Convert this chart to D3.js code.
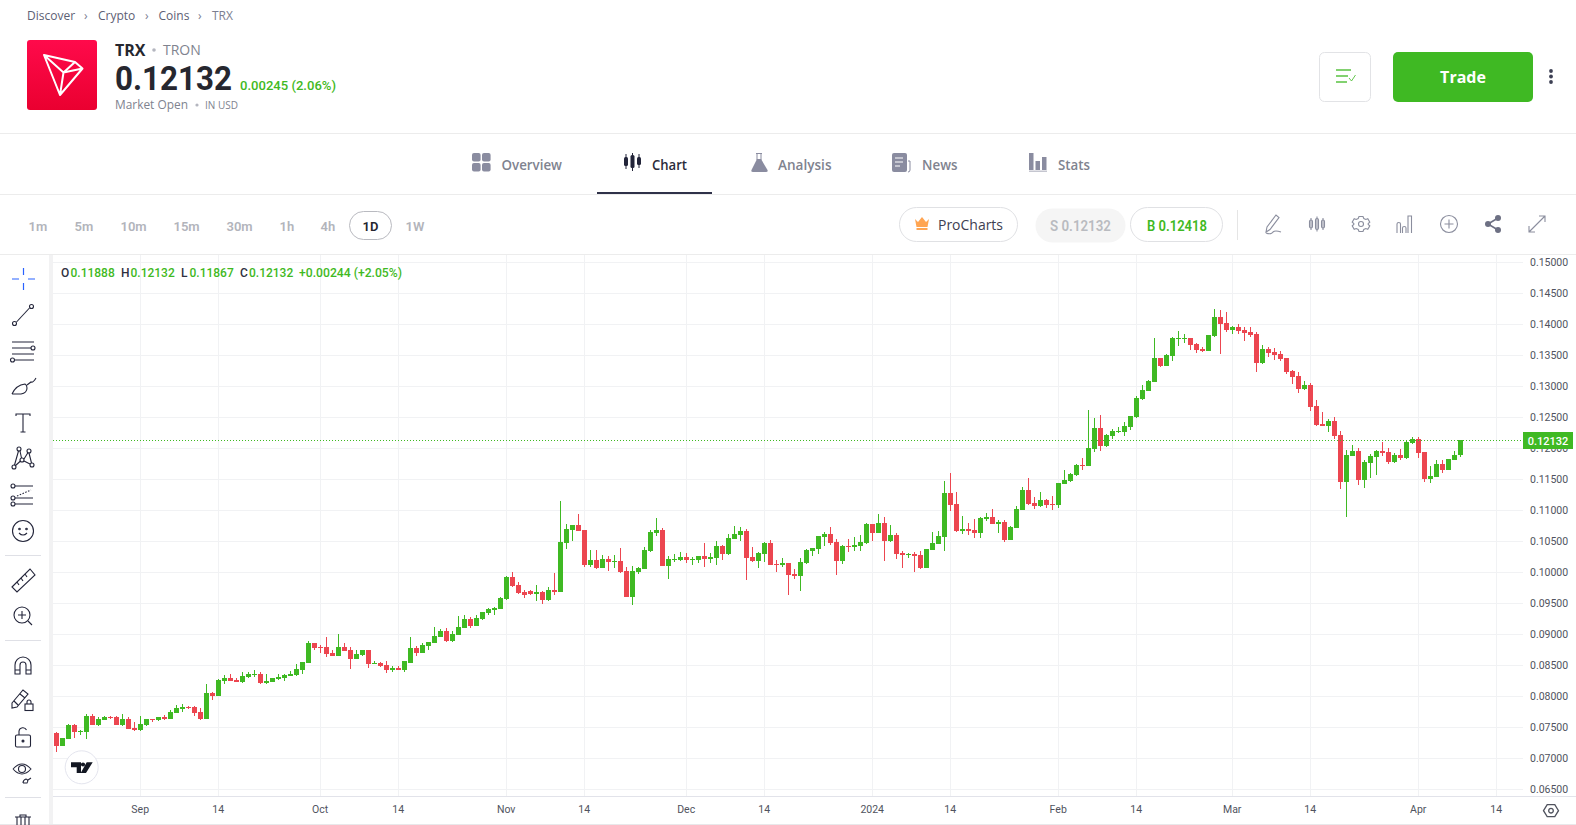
<!doctype html>
<html>
<head>
<meta charset="utf-8">
<title>TRX</title>
<script src="https://d3js.org/d3.v7.min.js"></script>
<style>
html,body{margin:0;padding:0;background:#fff;overflow:hidden}
svg{display:block}
</style>
</head>
<body>
<script>
// daily candles, first one on 2023-08-18
const firstDay = "2023-08-18";
const opens = [0.07409,0.07199,0.07312,0.07538,0.07425,0.07425,0.07683,0.07538,0.07619,0.07667,
0.07667,0.07538,0.07635,0.07490,0.07457,0.07538,0.07635,0.07619,0.07667,0.07635,
0.07732,0.07796,0.07828,0.07828,0.07748,0.07635,0.08054,0.08006,0.08248,0.08296,
0.08264,0.08232,0.08312,0.08344,0.08361,0.08215,0.08232,0.08280,0.08296,0.08328,
0.08344,0.08425,0.08538,0.08860,0.08796,0.08796,0.08699,0.08651,0.08796,0.08748,
0.08602,0.08667,0.08748,0.08522,0.08538,0.08506,0.08425,0.08457,0.08425,0.08538,
0.08780,0.08699,0.08812,0.08860,0.08957,0.09054,0.08893,0.08989,0.09102,0.09247,
0.09135,0.09247,0.09344,0.09393,0.09409,0.09570,0.09925,0.09796,0.09683,0.09699,
0.09651,0.09683,0.09554,0.09715,0.09683,0.10473,0.10683,0.10764,0.10683,0.10118,
0.10199,0.10070,0.10215,0.10167,0.10183,0.10022,0.09602,0.10006,0.10054,0.10344,
0.10634,0.10683,0.10102,0.10199,0.10199,0.10247,0.10199,0.10199,0.10264,0.10215,
0.10231,0.10425,0.10296,0.10538,0.10602,0.10667,0.10247,0.10183,0.10296,0.10474,
0.10135,0.10119,0.10151,0.09974,0.09941,0.10151,0.10345,0.10377,0.10570,0.10619,
0.10490,0.10183,0.10425,0.10409,0.10425,0.10474,0.10780,0.10635,0.10796,0.10506,
0.10603,0.10312,0.10280,0.10296,0.10280,0.10070,0.10361,0.10458,0.10570,0.11280,
0.11103,0.10667,0.10699,0.10683,0.10635,0.10861,0.10893,0.10780,0.10812,0.10522,
0.10716,0.11006,0.11328,0.11119,0.11070,0.11167,0.11103,0.11087,0.11425,0.11474,
0.11570,0.11732,0.11716,0.11990,0.12328,0.12037,0.12199,0.12263,0.12263,0.12344,
0.12505,0.12795,0.12924,0.13070,0.13457,0.13328,0.13489,0.13763,0.13763,0.13779,
0.13682,0.13602,0.13569,0.13811,0.14118,0.14021,0.13908,0.13957,0.13908,0.13876,
0.13844,0.13376,0.13602,0.13553,0.13521,0.13457,0.13247,0.13166,0.12957,0.13021,
0.12682,0.12392,0.12360,0.12440,0.12215,0.11457,0.11876,0.11957,0.11489,0.11763,
0.11860,0.11957,0.11941,0.11779,0.11892,0.11844,0.12086,0.12150,0.11941,0.11505,
0.11537,0.11747,0.11650,0.11812,0.11888];
const highs = [0.07420,0.07328,0.07549,0.07554,0.07457,0.07715,0.07715,0.07667,0.07683,0.07683,
0.07683,0.07715,0.07667,0.07586,0.07683,0.07635,0.07635,0.07667,0.07699,0.07780,
0.07861,0.07877,0.07844,0.07844,0.07812,0.08199,0.08070,0.08280,0.08344,0.08361,
0.08291,0.08393,0.08393,0.08425,0.08393,0.08361,0.08296,0.08361,0.08361,0.08409,
0.08522,0.08554,0.08893,0.08860,0.08828,0.08957,0.08748,0.09006,0.08860,0.08796,
0.08748,0.08748,0.08748,0.08570,0.08554,0.08570,0.08490,0.08490,0.08570,0.08957,
0.08812,0.08860,0.08877,0.09118,0.09086,0.09102,0.09054,0.09296,0.09312,0.09280,
0.09312,0.09360,0.09425,0.09441,0.09602,0.09941,0.10006,0.09844,0.09715,0.09715,
0.09796,0.09699,0.09764,0.09989,0.11151,0.10780,0.10764,0.10941,0.10683,0.10360,
0.10360,0.10280,0.10264,0.10280,0.10393,0.10086,0.10102,0.10086,0.10409,0.10683,
0.10876,0.10715,0.10264,0.10296,0.10328,0.10312,0.10247,0.10264,0.10473,0.10312,
0.10505,0.10441,0.10618,0.10747,0.10731,0.10699,0.10409,0.10328,0.10490,0.10522,
0.10200,0.10232,0.10151,0.10054,0.10232,0.10377,0.10393,0.10587,0.10651,0.10732,
0.10538,0.10441,0.10538,0.10570,0.10603,0.10796,0.10780,0.10941,0.10893,0.10764,
0.10635,0.10345,0.10312,0.10329,0.10345,0.10377,0.10651,0.10667,0.11474,0.11603,
0.11296,0.10909,0.10796,0.10861,0.10893,0.10958,0.11022,0.10845,0.10845,0.10748,
0.11070,0.11377,0.11522,0.11216,0.11296,0.11183,0.11232,0.11441,0.11651,0.11603,
0.11748,0.11845,0.12619,0.12490,0.12538,0.12231,0.12311,0.12344,0.12424,0.12521,
0.12844,0.13021,0.13102,0.13779,0.13457,0.13521,0.13795,0.13892,0.13844,0.13779,
0.13698,0.13634,0.13828,0.14247,0.14231,0.14198,0.13973,0.14005,0.13957,0.13957,
0.13876,0.13666,0.13634,0.13618,0.13569,0.13457,0.13263,0.13231,0.13086,0.13053,
0.12779,0.12586,0.12473,0.12505,0.12279,0.11973,0.12053,0.12005,0.11812,0.11908,
0.11973,0.12102,0.12005,0.11924,0.11989,0.12118,0.12182,0.12182,0.11941,0.11715,
0.11812,0.11812,0.11828,0.11957,0.12132];
const lows = [0.07103,0.07199,0.07312,0.07328,0.07377,0.07312,0.07538,0.07522,0.07619,0.07635,
0.07538,0.07522,0.07473,0.07441,0.07447,0.07522,0.07586,0.07602,0.07619,0.07635,
0.07732,0.07748,0.07796,0.07683,0.07619,0.07635,0.07941,0.08006,0.08199,0.08248,
0.08232,0.08215,0.08296,0.08312,0.08205,0.08199,0.08232,0.08264,0.08248,0.08328,
0.08328,0.08361,0.08538,0.08748,0.08699,0.08635,0.08651,0.08651,0.08731,0.08441,
0.08602,0.08651,0.08457,0.08522,0.08473,0.08377,0.08393,0.08425,0.08393,0.08538,
0.08651,0.08699,0.08748,0.08860,0.08957,0.08877,0.08877,0.08989,0.09102,0.09102,
0.09135,0.09231,0.09312,0.09312,0.09409,0.09554,0.09764,0.09651,0.09586,0.09635,
0.09538,0.09489,0.09538,0.09635,0.09683,0.10376,0.10505,0.10667,0.10086,0.10086,
0.10054,0.10070,0.10022,0.10070,0.09989,0.09602,0.09473,0.09973,0.10054,0.10328,
0.10586,0.10102,0.09893,0.10167,0.10183,0.10151,0.10118,0.10151,0.10086,0.10151,
0.10118,0.10199,0.10280,0.10538,0.10505,0.09876,0.10167,0.10070,0.10167,0.10119,
0.10006,0.10087,0.09635,0.09893,0.09700,0.10135,0.10264,0.10296,0.10425,0.10441,
0.09958,0.10135,0.10329,0.10345,0.10345,0.10458,0.10506,0.10635,0.10183,0.10490,
0.10216,0.10070,0.10232,0.10006,0.10054,0.10070,0.10361,0.10458,0.10345,0.10990,
0.10651,0.10619,0.10603,0.10554,0.10554,0.10828,0.10780,0.10635,0.10490,0.10522,
0.10716,0.11006,0.11087,0.11022,0.11054,0.11038,0.11006,0.11038,0.11425,0.11458,
0.11554,0.11651,0.11716,0.11941,0.11957,0.12021,0.12150,0.12247,0.12199,0.12295,
0.12489,0.12779,0.12924,0.13070,0.13311,0.13328,0.13408,0.13650,0.13698,0.13586,
0.13537,0.13553,0.13569,0.13795,0.13521,0.13876,0.13844,0.13844,0.13731,0.13795,
0.13231,0.13360,0.13473,0.13424,0.13408,0.13199,0.13037,0.12892,0.12940,0.12602,
0.12360,0.12360,0.12263,0.12150,0.11344,0.10892,0.11876,0.11408,0.11360,0.11521,
0.11570,0.11876,0.11747,0.11763,0.11812,0.11828,0.12070,0.11844,0.11457,0.11441,
0.11537,0.11602,0.11650,0.11812,0.11867];
const closes = [0.07199,0.07328,0.07538,0.07425,0.07441,0.07683,0.07538,0.07635,0.07667,0.07651,
0.07538,0.07635,0.07473,0.07457,0.07554,0.07635,0.07619,0.07667,0.07635,0.07748,
0.07812,0.07828,0.07812,0.07732,0.07635,0.08054,0.08006,0.08264,0.08296,0.08248,
0.08232,0.08328,0.08361,0.08361,0.08215,0.08248,0.08296,0.08312,0.08344,0.08361,
0.08441,0.08554,0.08860,0.08780,0.08780,0.08683,0.08651,0.08796,0.08731,0.08602,
0.08683,0.08748,0.08522,0.08538,0.08490,0.08425,0.08457,0.08425,0.08570,0.08780,
0.08699,0.08828,0.08877,0.08973,0.09054,0.08893,0.09006,0.09118,0.09247,0.09135,
0.09264,0.09360,0.09409,0.09425,0.09586,0.09925,0.09780,0.09667,0.09635,0.09651,
0.09683,0.09554,0.09715,0.09683,0.10489,0.10699,0.10764,0.10667,0.10118,0.10199,
0.10070,0.10215,0.10167,0.10183,0.10006,0.09602,0.10022,0.10070,0.10360,0.10651,
0.10683,0.10102,0.10215,0.10215,0.10247,0.10199,0.10215,0.10264,0.10215,0.10247,
0.10425,0.10296,0.10554,0.10618,0.10667,0.10231,0.10183,0.10312,0.10474,0.10119,
0.10119,0.10151,0.09958,0.09941,0.10167,0.10361,0.10393,0.10587,0.10619,0.10474,
0.10183,0.10425,0.10409,0.10441,0.10490,0.10780,0.10635,0.10796,0.10506,0.10603,
0.10296,0.10280,0.10296,0.10264,0.10070,0.10377,0.10474,0.10587,0.11280,0.11087,
0.10667,0.10699,0.10667,0.10635,0.10877,0.10893,0.10780,0.10812,0.10522,0.10732,
0.11022,0.11328,0.11103,0.11070,0.11167,0.11087,0.11087,0.11441,0.11490,0.11587,
0.11732,0.11716,0.12006,0.12328,0.12038,0.12215,0.12279,0.12279,0.12360,0.12521,
0.12811,0.12940,0.13086,0.13457,0.13328,0.13505,0.13779,0.13779,0.13779,0.13666,
0.13586,0.13569,0.13828,0.14118,0.14005,0.13908,0.13957,0.13892,0.13860,0.13828,
0.13376,0.13602,0.13537,0.13505,0.13440,0.13231,0.13150,0.12957,0.13021,0.12666,
0.12376,0.12360,0.12440,0.12199,0.11457,0.11892,0.11957,0.11489,0.11779,0.11876,
0.11957,0.11924,0.11779,0.11892,0.11844,0.12102,0.12150,0.11924,0.11505,0.11553,
0.11747,0.11650,0.11828,0.11892,0.12132];

const lastPrice = 0.12132;
const priceTicks = [0.065,0.07,0.075,0.08,0.085,0.09,0.095,0.10,0.105,0.11,0.115,0.12,0.125,0.13,0.135,0.14,0.145,0.15];
const timeTicks = ["2023-09-01","2023-09-14","2023-10-01","2023-10-14","2023-11-01","2023-11-14","2023-12-01","2023-12-14","2024-01-01","2024-01-14","2024-02-01","2024-02-14","2024-03-01","2024-03-14","2024-04-01","2024-04-14"];
const timeLabels = ["Sep","14","Oct","14","Nov","14","Dec","14","2024","14","Feb","14","Mar","14","Apr","14"];
const crumbs = ["Discover","Crypto","Coins","TRX"];
const intervals = ["1m","5m","10m","15m","30m","1h","4h","1D","1W"];
const tabs = ["Overview","Chart","Analysis","News","Stats"];

const GREEN = "#3fb923", RED = "#ec4650", GRID = "#f1f2f4", LINE = "#ececec", DARK = "#2a2b3a", GREY = "#80838f";
const OPEN = "'Open Sans'", ROBOTO = "Roboto";

const svg = d3.select("body").append("svg").attr("width",1576).attr("height",825);
const parse = d3.utcParse("%Y-%m-%d");

function txt(x,y,s,size,fill,o){
  o = o || {};
  const t = svg.append("text").attr("x",x).attr("y",y).attr("dy",".35em").text(s)
    .attr("font-family",o.font||OPEN).attr("font-size",size).attr("fill",fill)
    .attr("font-weight",o.weight||400).attr("text-anchor",o.anchor||"start");
  if(o.len) t.attr("textLength",o.len).attr("lengthAdjust","spacingAndGlyphs");
  return t;
}
function hline(x1,x2,y,c){ svg.append("line").attr("x1",x1).attr("x2",x2).attr("y1",y).attr("y2",y).attr("stroke",c||LINE); }
function pill(x,y,w,h,r,fill,stroke){
  svg.append("rect").attr("x",x+.5).attr("y",y+.5).attr("width",w).attr("height",h).attr("rx",r)
    .attr("fill",fill||"#fff").attr("stroke",stroke||"none");
}
function icon(x,y,c,sw){
  return svg.append("g").attr("transform","translate("+x+","+y+")").attr("fill","none")
    .attr("stroke",c||"#23253a").attr("stroke-width",sw||1.1);
}

//---------- header
var crumbX = [27,98,158.5,212];
var chevX = [84,145,198];
crumbs.forEach((c,i)=>{
  txt(crumbX[i],16,c,12,i==3?"#7b7e90":"#5d6074");
  if(i<3) txt(chevX[i],16,"›",12,"#7b7e90");
});

var grad = svg.append("defs").append("linearGradient").attr("id","logo").attr("x1",0).attr("x2",0).attr("y1",0).attr("y2",1);
grad.append("stop").attr("offset",0).attr("stop-color","#ff0a4b");
grad.append("stop").attr("offset",1).attr("stop-color","#ea0030");
svg.append("rect").attr("x",27).attr("y",40).attr("width",70).attr("height",70).attr("rx",3).attr("fill","url(#logo)");
icon(0,0,"#fff",2).attr("stroke-linejoin","round").append("path")
  .attr("d","M44 55 L75 62 L82.5 68.5 L60 95 Z M44 55 L63.5 72.5 L82.5 68.5 M63.5 72.5 L60 95 M63.5 72.5 L75 62");

txt(115,50,"TRX",16,"#26272f",{weight:700});
svg.append("circle").attr("cx",154).attr("cy",50).attr("r",1.8).attr("fill","#b4b6bf");
txt(163,50,"TRON",14,GREY);
txt(115,78,"0.12132",33,"#26272f",{weight:700,font:ROBOTO,len:117});
txt(240,85,"0.00245 (2.06%)",13,GREEN,{weight:500,font:ROBOTO,len:96});
txt(115,105,"Market Open",12.5,GREY,{len:73});
svg.append("circle").attr("cx",197).attr("cy",105).attr("r",1.6).attr("fill","#b4b6bf");
txt(205,105.5,"IN USD",10,GREY);

pill(1319,52,51,49,5,"#fff","#e2e3e6");
var wl = icon(1336,68,GREEN,1.3);
[[0,15],[0,12],[0,11]].forEach((d,i)=>wl.append("line").attr("x1",d[0]).attr("x2",d[1]).attr("y1",i*6+2).attr("y2",i*6+2));
wl.append("path").attr("d","M13 10 l2.5 3 l4 -6").attr("stroke-width",.8);
svg.append("rect").attr("x",1393).attr("y",52).attr("width",140).attr("height",50).attr("rx",5).attr("fill",GREEN);
txt(1463,77,"Trade",16,"#fff",{weight:700,anchor:"middle"});
[71,76.5,82].forEach(y=>svg.append("circle").attr("cx",1551).attr("cy",y).attr("r",1.9).attr("fill","#3d4054"));

hline(0,1576,133.5);
hline(0,1576,194.5);
hline(0,1576,254.5);

//---------- tabs
var tabX = [501.5,652,778,922,1058];
var tabW = [60.5,35,53.5,35.5,32];
tabs.forEach((t,i)=>txt(tabX[i],165,t,14,i==1?DARK:GREY,{weight:600,len:tabW[i]}));
svg.append("rect").attr("x",597).attr("y",192).attr("width",115).attr("height",2).attr("fill","#2f3149");

var ig = svg.append("g").attr("fill","#8a8ca0");
[[472,153],[482,153],[472,163],[482,163]].forEach(p=>ig.append("rect").attr("x",p[0]).attr("y",p[1]).attr("width",8.6).attr("height",8.6).attr("rx",2));
var cg = svg.append("g").attr("fill","#23253a");
[[624,157,9,154,169],[630.5,155,13,153,171],[637,157,8,154,168]].forEach(p=>{
  cg.append("rect").attr("x",p[0]).attr("y",p[1]).attr("width",4).attr("height",p[2]).attr("rx",1.5);
  cg.append("rect").attr("x",p[0]+1.5).attr("y",p[3]).attr("width",1).attr("height",p[4]-p[3]);
});
// flask: open neck, filled lower half
icon(0,0,"#8a8ca0",1).append("path").attr("d","M756 153.500 h6 M757 154 v6 M761 154 v6");
ig.append("path").attr("d","M757 159 h4 l6.500 11 q.8 2 -1.500 2 h-13 q-2.300 0 -1.500 -2 z");
ig.append("rect").attr("x",892).attr("y",153).attr("width",15).attr("height",19).attr("rx",2);
icon(0,0,"#8a8ca0",1).append("path").attr("d","M908 161 h2 v9 q0 2 -2 2");
icon(0,0,"#fff",1.2).append("path").attr("d","M895 158 h8 M895 162 h8 M895 166 h5");
[[1029,153,17],[1035.500,161,9],[1042,157,13]].forEach(p=>ig.append("rect").attr("x",p[0]).attr("y",p[1]).attr("width",4.5).attr("height",p[2]));
ig.append("rect").attr("x",1029).attr("y",170.500).attr("width",18).attr("height",1.5).attr("fill","#c5c6d0");

//---------- toolbar above the chart
var intX = [28.5,74.5,120.5,173.5,226.5,279.5,320.5,362.5,405.5];
intervals.forEach((s,i)=>txt(intX[i],226,s,13,i==7?"#24252f":"#b2b4bb",{weight:600,font:ROBOTO}));
pill(349,211,42,28,14,"none","#b9bac0");
pill(899,207,118,34,17,"#fff","#e0e1e4");
svg.append("path").attr("d","M915 219 l3 3 l4 -5 l4 5 l3 -3 l-1.500 8 h-11 z").attr("fill","#ffa552");
svg.append("rect").attr("x",916.500).attr("y",228).attr("width",11).attr("height",2).attr("fill","#ffa552");
txt(938,225,"ProCharts",14,"#3e4052",{len:65});
pill(1035,208,90,34,17,"#f5f5f5");
txt(1050,226,"S 0.12132",14,"#b9bbc0",{weight:600,font:ROBOTO,len:61});
pill(1130,207,92,34,17,"#fff","#e0e1e4");
txt(1147,226,"B 0.12418",14,GREEN,{weight:600,font:ROBOTO,len:60});
svg.append("line").attr("x1",1237.500).attr("x2",1237.500).attr("y1",210).attr("y2",240).attr("stroke","#e5e5e5");

var T = "#8b8e9e";
icon(1273,224,T).append("path").attr("d","M-7 8 l1 -5 l9 -12 l3 2.500 l-9 12 z M-7 9 q5 2 7 -1 q2 -2 8 0");
var ci = icon(1317,224,T);
[[-6,-4,8],[0,-5.5,11],[6,-4,8]].forEach(p=>{
  ci.append("rect").attr("x",p[0]-1.5).attr("y",p[1]).attr("width",3).attr("height",p[2]).attr("rx",1.5);
  ci.append("line").attr("x1",p[0]).attr("x2",p[0]).attr("y1",p[1]-2).attr("y2",p[1]+p[2]+2);
});
var gi = icon(1361,224,T);
gi.append("circle").attr("r",2.500);
gi.append("path").attr("d","M-2 -7.500 h4 l.8 2 l2 1 l2 -.8 l2 3.400 l-1.600 1.400 v1 l1.600 1.400 l-2 3.400 l-2 -.8 l-2 1 l-.8 2 h-4 l-.8 -2 l-2 -1 l-2 .8 l-2 -3.400 l1.600 -1.400 v-1 l-1.600 -1.400 l2 -3.400 l2 .8 l2 -1 z");
var bi = icon(1406,224,T);
bi.append("path").attr("d","M-9 9 v-9 q0 -1.500 1.750 -1.500 q1.750 0 1.750 1.500 v9 M-3.500 9 v-5 q0 -1.500 1.750 -1.500 q1.750 0 1.750 1.500 v5 M2 9 v-17 h3.500 v17");
var pi = icon(1449,224,T);
pi.append("circle").attr("r",8.500);
pi.append("path").attr("d","M-4.500 0 h9 M0 -4.500 v9");
var si = icon(1493,224,"#6d7083",1.6);
si.append("path").attr("d","M5 -6 L-5 0 L5 6");
[[5,-6],[-5,0],[5,6]].forEach(p=>si.append("circle").attr("cx",p[0]).attr("cy",p[1]).attr("r",3).attr("fill","#6d7083").attr("stroke","none"));
icon(1537,224,T).append("path").attr("d","M-8 8 L8 -8 M2 -8 h6 v6 M-8 2 v6 h6");

//---------- chart
const x = d3.scaleUtc().domain([parse("2023-09-01"),parse("2024-04-01")]).range([140.5,1418.5]);
const y = d3.scaleLinear().domain([0.065,0.15]).range([789.5,262.5]);
const start = parse(firstDay);
const candles = opens.map((o,i)=>({d:d3.utcDay.offset(start,i),o:o,h:highs[i],l:lows[i],c:closes[i]}));
const ticksT = timeTicks.map(parse);

svg.append("rect").attr("x",49).attr("y",255).attr("width",4).attr("height",569).attr("fill","#f2f2f3");

var grid = svg.append("g").attr("stroke",GRID).attr("shape-rendering","crispEdges");
grid.selectAll(".h").data(priceTicks).enter().append("line").attr("x1",53).attr("x2",1523).attr("y1",d=>Math.floor(y(d))+.5).attr("y2",d=>Math.floor(y(d))+.5);
grid.selectAll(".v").data(ticksT).enter().append("line").attr("x1",d=>x(d)).attr("x2",d=>x(d)).attr("y1",255).attr("y2",796);

var cs = svg.append("g").attr("shape-rendering","crispEdges").selectAll("g").data(candles).enter().append("g")
  .attr("fill",d=>d.c>=d.o?GREEN:RED);
cs.append("rect").attr("x",d=>x(d.d)-.5).attr("width",1).attr("y",d=>Math.round(y(d.h))).attr("height",d=>Math.max(1,Math.round(y(d.l))-Math.round(y(d.h))));
cs.append("rect").attr("x",d=>x(d.d)-2.5).attr("width",5).attr("y",d=>Math.round(y(Math.max(d.o,d.c))))
  .attr("height",d=>Math.max(1,Math.round(y(Math.min(d.o,d.c)))-Math.round(y(Math.max(d.o,d.c)))));

// last price line
svg.append("line").attr("x1",53).attr("x2",1523).attr("y1",Math.floor(y(lastPrice))+.5).attr("y2",Math.floor(y(lastPrice))+.5)
  .attr("stroke",GREEN).attr("stroke-dasharray","1 2");

// axes
var ay = svg.append("g").attr("transform","translate(1523,0)")
  .call(d3.axisRight(y).tickValues(priceTicks).tickSize(0).tickPadding(7).tickFormat(d3.format(".5f")));
ay.select(".domain").remove();
ay.selectAll("text").attr("font-family",ROBOTO).attr("font-size",10.5).attr("fill","#50535e");
var ax = svg.append("g").attr("transform","translate(-0.8,797)")
  .call(d3.axisBottom(x).tickValues(ticksT).tickSize(0).tickPadding(9).tickFormat((d,i)=>timeLabels[i]));
ax.select(".domain").remove();
ax.selectAll("text").attr("font-family",ROBOTO).attr("font-size",10.5).attr("fill","#50535e");
hline(53,1576,796.5,"#e2e3ea");

svg.append("rect").attr("x",1523).attr("y",432).attr("width",50).attr("height",17).attr("fill",GREEN);
txt(1548,441,d3.format(".5f")(lastPrice),11,"#fff",{font:ROBOTO,weight:500,anchor:"middle"});

// OHLC legend
var last = candles[candles.length-1];
var legX = [61,70.5,121,130.5,181,189.5,240,249];
[["O",last.o],["H",last.h],["L",last.l],["C",last.c]].forEach((p,i)=>{
  txt(legX[i*2],272.7,p[0],12,"#2f3040",{font:ROBOTO,weight:500});
  txt(legX[i*2+1],272.7,d3.format(".5f")(p[1]),12,GREEN,{font:ROBOTO,weight:500});
});
txt(299,272.7,"+0.00244 (+2.05%)",12,GREEN,{font:ROBOTO,weight:500,len:103});

// tradingview badge + settings
svg.append("circle").attr("cx",81.7).attr("cy",767.3).attr("r",16.500).attr("fill","#fff").attr("stroke","#e4e5ee");
svg.append("path").attr("d","M71 762.300 h10 v10.700 h-4.300 v-5.700 h-5.700 z M86.700 762.300 h6 l-6.700 10.700 h-5.300 z").attr("fill","#131722");
svg.append("circle").attr("cx",83).attr("cy",764.500).attr("r",2.100).attr("fill","#131722");
var gs = icon(1551,810.7,"#50535e",1.3);
gs.append("path").attr("d","M-7.500 0 L-3.800 -6 H3.800 L7.500 0 L3.800 6 H-3.800 Z");
gs.append("circle").attr("r",2.300);
hline(0,1576,824.5,"#e8e8ea");

//---------- left toolbar
icon(23.5,279,"#2962ff",1.2).append("path").attr("d","M-11.500 0 h7 M4.500 0 h7 M0 -11 v7 M0 4 v7");
var t1 = icon(23,315);
t1.append("line").attr("x1",-6.5).attr("y1",7).attr("x2",6.5).attr("y2",-7);
t1.append("circle").attr("cx",-8.5).attr("cy",8.500).attr("r",2);
t1.append("circle").attr("cx",8.5).attr("cy",-8.500).attr("r",2);
var t2 = icon(23,351);
t2.append("path").attr("d","M-11 -9 h22 M-11 -3 h19 M-11 3 h22 M-8 9 h19");
t2.append("circle").attr("cx",10).attr("cy",-3).attr("r",2);
t2.append("circle").attr("cx",-10.500).attr("cy",9).attr("r",2);
icon(23,386).append("path").attr("d","M-11 8 h9 q6 -1 6 -6 q0 -3 -2 -4 q-9 1 -13 10 M4 -1 l4 -3 q2 1 5 -4");
icon(23,423).append("path").attr("d","M-7 -7 v-2 h14 v2 M0 -9 v18 M-2.500 9 h5");
var t5 = icon(23,458);
[[-4,-9],[6,-7],[-1,2],[-9,9],[9,7]].forEach(p=>t5.append("circle").attr("cx",p[0]).attr("cy",p[1]).attr("r",2));
t5.append("path").attr("d","M-4.500 -7 L-8.500 7 M-3 -7 L-1.500 0 M6 -5 L8.500 5 M5 -5.500 L1 1 M-8 8 L-2.500 3 M1 3 L7 6");
var t6 = icon(23,495);
t6.append("path").attr("d","M-8 -9 h18 M-8 3 h18 M-8 9 h18");
t6.append("path").attr("d","M-6 1 L8 -5").attr("stroke-dasharray","1.500 1.500");
[[-10,-9],[-10,3],[-10,9]].forEach(p=>t6.append("circle").attr("cx",p[0]).attr("cy",p[1]).attr("r",2));
var t7 = icon(23,531);
t7.append("circle").attr("r",10.500);
t7.append("path").attr("d","M-4 2 q4 4 8 0");
t7.append("circle").attr("cx",-3.500).attr("cy",-2).attr("r",.8);
t7.append("circle").attr("cx",3.500).attr("cy",-2).attr("r",.8);
hline(5,41,555.5,"#dfe0e6");
var t8 = icon(23,580);
t8.append("path").attr("d","M-11 7 L7 -11 L12 -5 L-6 12 Z M-6 2 l2 3 M-2 -2 l2 3 M2 -6 l2 3");
var t9 = icon(22,615);
t9.append("circle").attr("r",8);
t9.append("path").attr("d","M-4 0 h8 M0 -4 v8 M6 6 l4 4");
hline(5,41,640.5,"#dfe0e6");
icon(23,665).append("path").attr("d","M-8 9 v-9 a8 8 0 0 1 16 0 v9 h-5 v-9 a3 3 0 0 0 -6 0 v9 z M-8 5 h5 M3 5 h5");
var t11 = icon(22,700);
t11.append("path").attr("d","M-10 3 l11 -13 l5 4 l-11 13 l-5 1 z M-2 -6 l5 4 M-8 1 l4 4");
t11.append("rect").attr("x",3).attr("y",4).attr("width",8).attr("height",6.500);
t11.append("path").attr("d","M5 4 v-2 a2 2 0 0 1 4 0 v2");
var t12 = icon(23,737);
t12.append("rect").attr("x",-7.500).attr("y",-2).attr("width",15).attr("height",12).attr("rx",1.500);
t12.append("path").attr("d","M-4 -2 v-4 a4 4 0 0 1 7.500 -1");
t12.append("circle").attr("cy",4).attr("r",1).attr("fill","#23253a");
var t13 = icon(22,769);
t13.append("path").attr("d","M-9 0 q9 -10 18 0 q-9 10 -18 0");
t13.append("circle").attr("r",3.500);
icon(28,780).append("path").attr("d","M-5 3 h4 q2 -3 -1 -4 q-3 1 -3 4 M0 0 l3 -2");
hline(5,41,797.5,"#dfe0e6");
var t14 = icon(23,820);
t14.append("path").attr("d","M-8 -3 h16 M-6 -3 v8 M6 -3 v8 M-2 -3 v8 M2 -3 v8 M-3 -3 v-2 h6 v2");
</script>
</body>
</html>
